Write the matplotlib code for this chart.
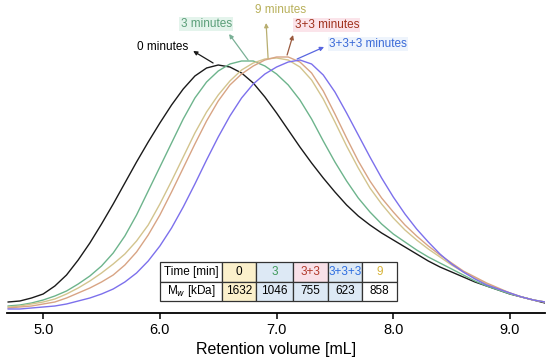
import matplotlib
matplotlib.use("Agg")
import matplotlib.pyplot as plt
import numpy as np

plt.rcParams['font.family'] = ['Liberation Sans', 'DejaVu Sans']

# retention volume grid [mL]
volume = [4.7, 4.8, 4.9, 5.0, 5.1, 5.2, 5.3, 5.4, 5.5, 5.6, 5.7, 5.8, 5.9,
          6.0, 6.1, 6.2, 6.3, 6.4, 6.5, 6.6, 6.7, 6.8, 6.9, 7.0, 7.1, 7.2,
          7.3, 7.4, 7.5, 7.6, 7.7, 7.8, 7.9, 8.0, 8.1, 8.2, 8.3, 8.4, 8.5,
          8.6, 8.7, 8.8, 8.9, 9.0, 9.1, 9.2, 9.3]

# detector signal (arbitrary units)
sig_0 = [11, 12, 15, 19, 27, 38, 53, 70, 89, 109, 130, 151, 171, 190, 208, 224,
         237, 245, 248, 246, 240, 230, 216, 200, 183, 166, 150, 135, 121, 108, 97,
         88, 80, 73, 66, 59, 52, 46, 41, 36, 31, 27, 23, 19, 16, 13, 10]
sig_3 = [7, 8, 10, 13, 17, 22, 29, 37, 47, 60, 77, 98, 122, 146, 170, 194, 215,
         231, 242, 249, 252, 252, 247, 239, 228, 213, 194, 172, 151, 132, 115, 101,
         89, 79, 71, 63, 56, 50, 44, 38, 32, 27, 23, 19, 16, 13, 11]
sig_9 = [6, 7, 9, 11, 14, 19, 25, 32, 40, 49, 59, 72, 88, 109, 132, 156, 180,
         201, 218, 232, 243, 250, 254, 255, 253, 246, 233, 214, 191, 167, 145, 125,
         109, 95, 83, 73, 64, 56, 48, 41, 35, 29, 24, 20, 16, 13, 11]
sig_33 = [5, 6, 7, 9, 11, 15, 20, 25, 31, 38, 48, 61, 78, 98, 121, 145, 169, 192,
          212, 228, 239, 247, 253, 256, 256, 251, 240, 222, 199, 175, 152, 132, 115,
          101, 88, 77, 67, 58, 50, 42, 36, 30, 25, 20, 16, 13, 11]
sig_333 = [4, 4, 5, 6, 7, 9, 12, 15, 19, 24, 31, 40, 52, 67, 85, 106, 129, 153,
           176, 197, 215, 229, 239, 246, 251, 253, 249, 238, 221, 200, 178, 156, 135,
           116, 99, 84, 71, 59, 49, 41, 34, 28, 24, 20, 16, 13, 11]

table_head = ["Time [min]", "0", "3", "3+3", "3+3+3", "9"]
table_mw = ["M$_w$ [kDa]", "1632", "1046", "755", "623", "858"]

c_black = '#1a1a1a'
c_green = '#6db48c'
c_tan = '#d3c48e'
c_orange = '#d8a484'
c_blue = '#7c70ec'

fig = plt.figure(figsize=(5.5, 3.61), dpi=100)
ax = fig.add_axes([7 / 550, 1 - 313 / 361, 538 / 550, 313 / 361])

ax.plot(volume, sig_0, color=c_black, lw=1.0)
ax.plot(volume, sig_3, color=c_green, lw=1.0)
ax.plot(volume, sig_9, color=c_tan, lw=1.0)
ax.plot(volume, sig_33, color=c_orange, lw=1.0)
ax.plot(volume, sig_333, color=c_blue, lw=1.0)

ax.set_xlim(4.69, 9.30)
ax.set_ylim(0, 313)
for s in ['top', 'right', 'left']:
    ax.spines[s].set_visible(False)
ax.spines['bottom'].set_linewidth(1.3)
ax.set_yticks([])
ax.set_xticks([5, 6, 7, 8, 9])
ax.set_xticklabels(["5.0", "6.0", "7.0", "8.0", "9.0"], fontsize=10.5)
ax.tick_params(axis='x', direction='out', length=4, width=1.1, pad=3)
ax.set_xlabel("Retention volume [mL]", fontsize=11.5, labelpad=4)

# labels with arrows (text, text pos, arrow head, arrow tail, text colour, arrow colour, bg)
notes = [
    ("0 minutes", (6.02, 266), (6.285, 262), (6.456, 250), '#000000', c_black, None),
    ("3 minutes", (6.396, 289), (6.593, 279), (6.756, 253), '#5a9e78', '#7ab096', '#e4f4ec'),
    ("9 minutes", (7.03, 303), (6.91, 290), (6.927, 255), '#b8b05a', '#b8ae70', None),
    ("3+3 minutes", (7.43, 288), (7.141, 278), (7.09, 258), '#a0321e', '#9a5a3e', '#fbe4ea'),
    ("3+3+3 minutes", (7.784, 269), (7.407, 266), (7.176, 254), '#3a6ad8', '#5866e0', '#eef4fc'),
]
for txt, tpos, head, tail, tc, ac, bg in notes:
    bbox = None
    if bg is not None:
        bbox = dict(boxstyle='square,pad=0.1', fc=bg, ec='none')
    ax.text(tpos[0], tpos[1], txt, color=tc, fontsize=8.5, ha='center', va='center',
            bbox=bbox, clip_on=False)
    ax.annotate('', xy=head, xytext=tail,
                arrowprops=dict(arrowstyle='-|>', color=ac, lw=0.9,
                                mutation_scale=6, shrinkA=0, shrinkB=0))

# Mw table
head_cols = ['white', '#fbf0cb', '#dde9f5', '#f9e1e8', '#dde9f5', 'white']
mw_cols = ['white', '#fbf0cb', '#dde9f5', '#dde9f5', '#dde9f5', 'white']
head_txt = ['black', 'black', '#3e9a5a', '#b2392a', '#2f6fe0', '#d8b43a']
widths = [62, 34, 37, 35, 34, 35]
tot = sum(widths)
tb = ax.table(cellText=[table_head, table_mw], cellColours=[head_cols, mw_cols],
              colWidths=[w / tot for w in widths], cellLoc='center',
              bbox=[(160 - 7) / 538, (313 - 301) / 313, 237 / 538, 39 / 313])
tb.auto_set_font_size(False)
tb.set_fontsize(8.5)
tb.set_zorder(5)
for (r, c), cell in tb.get_celld().items():
    cell.set_edgecolor('#333333')
    cell.set_linewidth(0.9)
    if r == 0:
        cell.get_text().set_color(head_txt[c])

fig.savefig("out.png", dpi=100)
